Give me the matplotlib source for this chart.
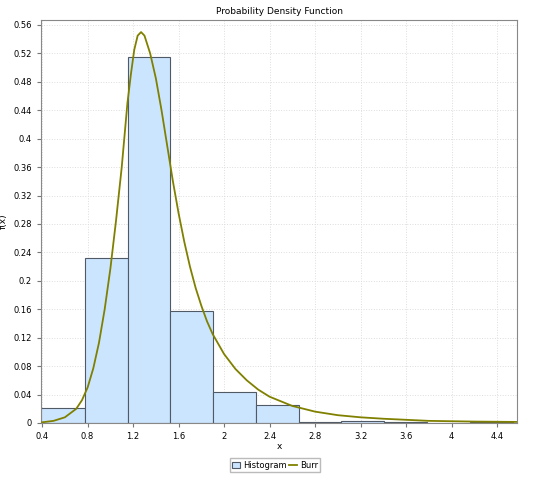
import matplotlib
matplotlib.use("Agg")
import matplotlib.pyplot as plt
import numpy as np

bin_edges = [0.39, 0.778, 1.156, 1.525, 1.903, 2.28, 2.66, 3.03, 3.41, 3.785, 4.16, 4.537]
hist_vals = [0.021, 0.232, 0.515, 0.157, 0.044, 0.026, 0.002, 0.003, 0.001, 0.0, 0.001]
curve_x = [0.4, 0.5, 0.6, 0.7, 0.75, 0.8, 0.85, 0.9, 0.95, 1.0, 1.05, 1.1, 1.15, 1.18, 1.21, 1.24, 1.27,
           1.3, 1.35, 1.4, 1.45, 1.5, 1.55, 1.6, 1.65, 1.7, 1.75, 1.8, 1.85, 1.9, 2.0, 2.1, 2.2, 2.3,
           2.4, 2.6, 2.8, 3.0, 3.2, 3.4, 3.8, 4.2, 4.58]
curve_y = [0.001, 0.003, 0.008, 0.02, 0.032, 0.05, 0.077, 0.113, 0.16, 0.217, 0.285, 0.36, 0.45, 0.49,
           0.525, 0.545, 0.55, 0.545, 0.52, 0.485, 0.44, 0.39, 0.34, 0.295, 0.255, 0.22, 0.19, 0.165,
           0.143, 0.125, 0.097, 0.076, 0.06, 0.047, 0.037, 0.024, 0.016, 0.011, 0.008, 0.006, 0.003,
           0.002, 0.0015]

fig = plt.figure(figsize=(5.5, 4.8), dpi=100)
ax = fig.add_axes([41/550, 57/480, 476/550, 403/480])
widths = np.diff(bin_edges)
ax.bar(bin_edges[:-1], hist_vals, width=widths, align='edge', color='#cce5ff',
       edgecolor='#4f5a66', linewidth=0.8, label='Histogram', zorder=2)
ax.plot(curve_x, curve_y, color='#808000', linewidth=1.3, label='Burr', zorder=3)
ax.set_xlim(0.39, 4.576)
ax.set_ylim(0, 0.567)
ax.set_xticks(np.arange(0.4, 4.5, 0.4))
ax.set_xticklabels(['0.4', '0.8', '1.2', '1.6', '2', '2.4', '2.8', '3.2', '3.6', '4', '4.4'])
ax.set_yticks(np.arange(0, 0.57, 0.04))
ax.set_yticklabels(['0', '0.04', '0.08', '0.12', '0.16', '0.2', '0.24', '0.28', '0.32', '0.36', '0.4',
                    '0.44', '0.48', '0.52', '0.56'])
ax.tick_params(labelsize=6, length=3, color='#777777')
ax.grid(True, linestyle=':', color='#dddddd', linewidth=0.7, zorder=0)
ax.set_axisbelow(True)
for s in ax.spines.values():
    s.set_color('#888888')
ax.set_title('Probability Density Function', fontsize=6.5, pad=4)
ax.set_xlabel('x', fontsize=6.5, labelpad=1)
ax.set_ylabel('f(x)', fontsize=6.5, labelpad=4)
handles, labels = ax.get_legend_handles_labels()
order = [labels.index('Histogram'), labels.index('Burr')]
fig.legend([handles[i] for i in order], [labels[i] for i in order],
           loc='center', bbox_to_anchor=(0.5, 15/480), ncol=2, fontsize=6,
           frameon=True, fancybox=False, edgecolor='#aaaaaa', handlelength=1.0, handletextpad=0.3,
           columnspacing=0.3, borderpad=0.3)
fig.savefig('out.png', dpi=100)
